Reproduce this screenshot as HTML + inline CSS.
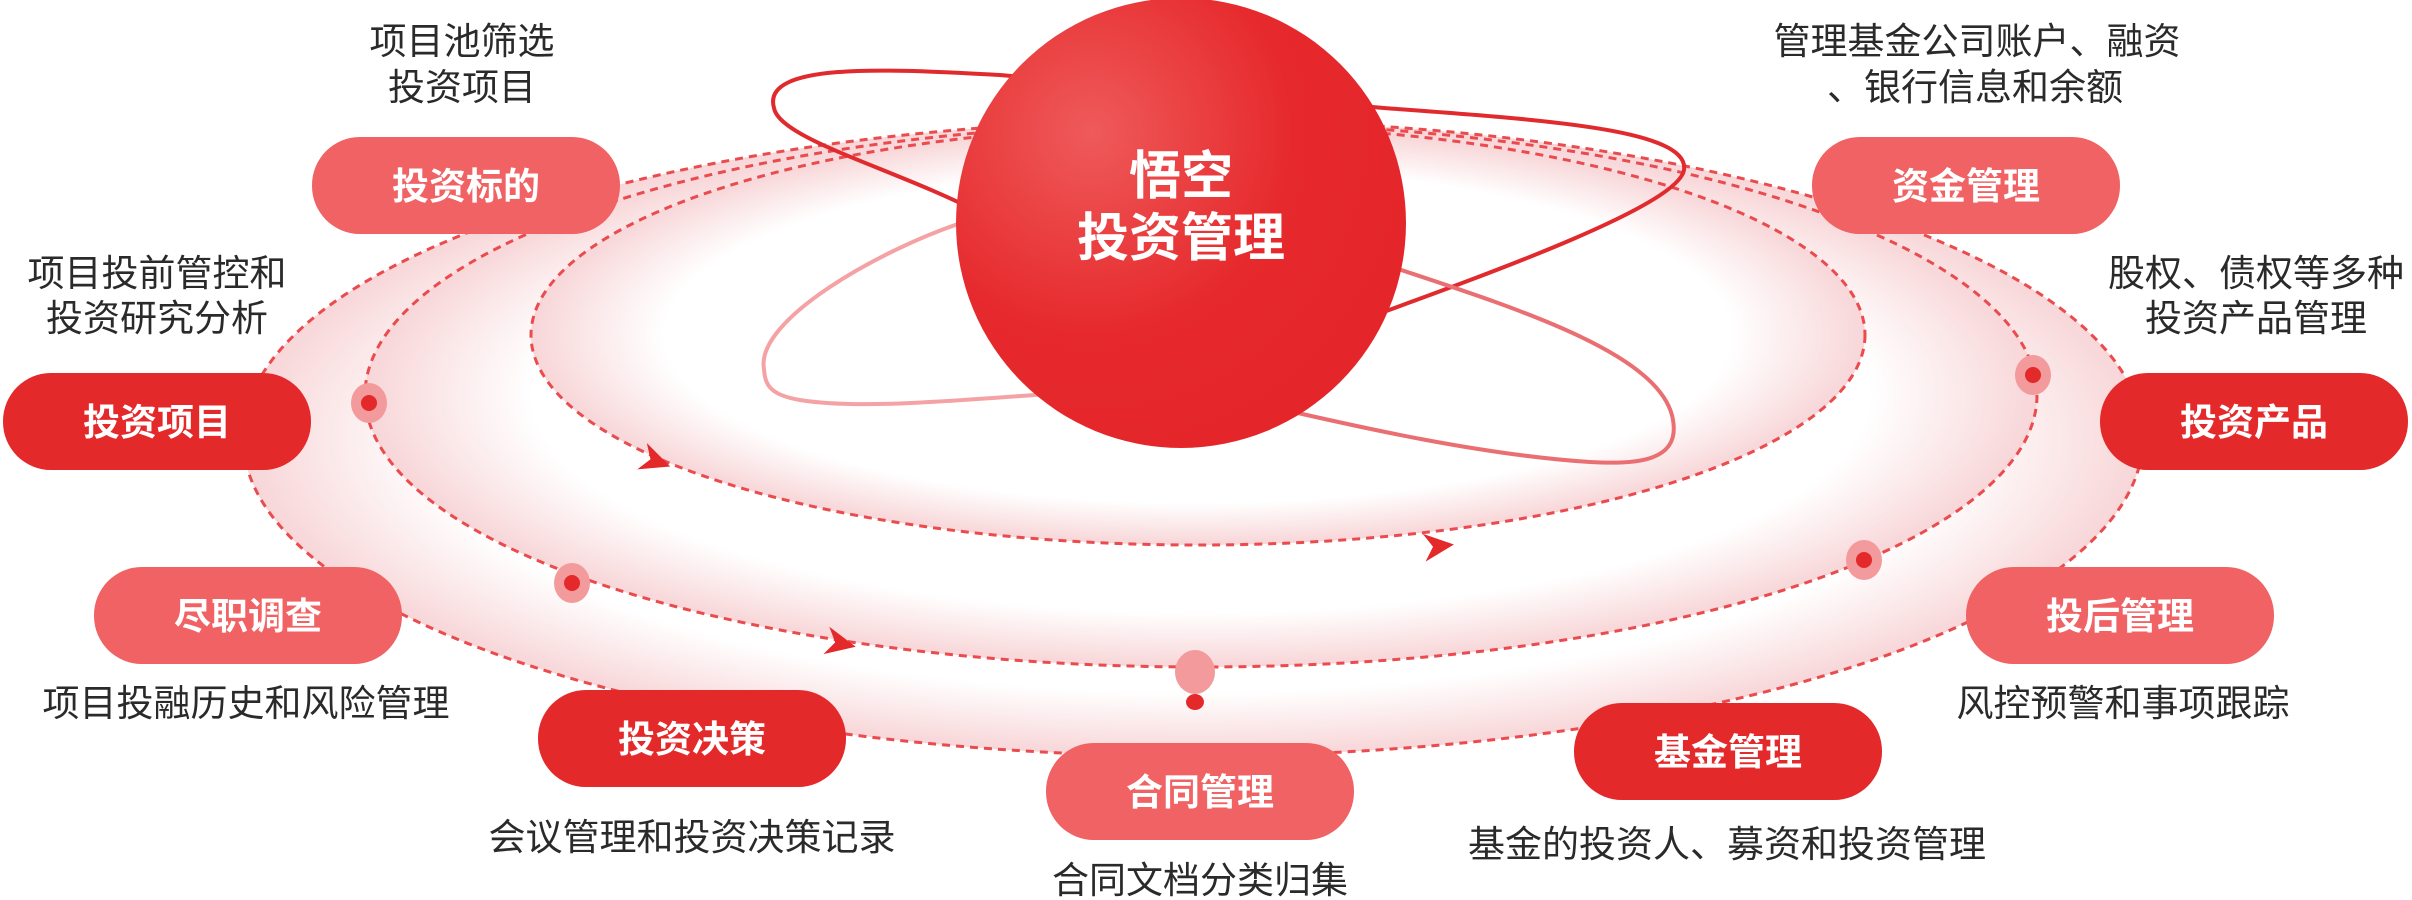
<!DOCTYPE html>
<html><head><meta charset="utf-8"><style>
html,body{margin:0;padding:0;background:#fff;}
svg{display:block;}
text{font-family:"Liberation Sans","Noto Sans CJK SC",sans-serif;}
.lb{font-size:37px;fill:#2a2a2a;text-anchor:middle;}
.pt{font-size:37px;fill:#fff;font-weight:bold;text-anchor:middle;}
</style></head><body>
<svg width="2412" height="900" viewBox="0 0 2412 900" xmlns="http://www.w3.org/2000/svg">
<defs>
<radialGradient id="rg" cx="50%" cy="50%" r="50%">
<stop offset="0.8" stop-color="#fff"/>
<stop offset="1" stop-color="#f8d6d8"/>
</radialGradient>
<radialGradient id="sph" cx="30%" cy="30%" r="75%">
<stop offset="0" stop-color="#ef5a5a"/>
<stop offset="0.6" stop-color="#e6292c"/>
<stop offset="1" stop-color="#e4262a"/>
</radialGradient>
</defs>
<ellipse cx="1193" cy="438" rx="950" ry="318" fill="url(#rg)" stroke="#ea4b4e" stroke-width="3" stroke-dasharray="8 6"/>
<ellipse cx="1201" cy="395" rx="836" ry="272" fill="url(#rg)" stroke="#ea4b4e" stroke-width="3" stroke-dasharray="8 6"/>
<ellipse cx="1198" cy="335" rx="667" ry="210" fill="url(#rg)" stroke="#ea4b4e" stroke-width="3" stroke-dasharray="8 6"/>
<polygon points="641,448 671,462 641,476 650,462" fill="#e4292b" transform="rotate(20 658 462)"/>
<polygon points="826,630 856,644 826,658 835,644" fill="#e4292b" transform="rotate(12 843 644)"/>
<polygon points="1424,532 1454,546 1424,560 1433,546" fill="#e4292b" transform="rotate(-6 1440 546)"/>
<g fill="#f39a9c"><ellipse cx="369" cy="403" rx="18" ry="20"/><ellipse cx="572" cy="583" rx="18" ry="20"/><ellipse cx="2033" cy="375" rx="18" ry="20"/><ellipse cx="1864" cy="560" rx="18" ry="20"/><ellipse cx="1195" cy="672" rx="20" ry="22"/></g>
<g fill="#e4292b"><circle cx="369" cy="403" r="8"/><circle cx="572" cy="583" r="8"/><circle cx="2033" cy="375" r="8"/><circle cx="1864" cy="560" r="8"/><ellipse cx="1195" cy="702" rx="9" ry="8"/></g>
<path d="M774,108 C 760,60 900,70 1000,75 L1384,108 C 1550,120 1690,130 1684,170 C 1678,205 1500,270 1353,323 L984,215 C 900,170 780,140 774,108 Z" fill="none" stroke="#e02a2d" stroke-width="4"/>
<path d="M764,369 C 755,320 880,250 961,223 L1076,392 C 960,400 860,410 800,400 C 770,395 765,385 764,369 Z" fill="none" stroke="#f4a2a4" stroke-width="4"/>
<path d="M1307,238 C 1450,290 1660,340 1673,420 C 1680,460 1640,465 1590,462 C 1480,455 1350,425 1276,408" fill="none" stroke="#ea6f72" stroke-width="4"/>
<circle cx="1181" cy="223" r="225" fill="url(#sph)"/>
<text x="1181" y="194" font-size="52" font-weight="bold" fill="#fff" text-anchor="middle">悟空</text>
<text x="1181" y="256" font-size="52" font-weight="bold" fill="#fff" text-anchor="middle">投资管理</text>
<g>
<rect x="312" y="137" width="308" height="97" rx="48" fill="#f06263"/><text class="pt" x="466" y="199">投资标的</text>
<rect x="3" y="373" width="308" height="97" rx="48" fill="#e4292b"/><text class="pt" x="157" y="435">投资项目</text>
<rect x="94" y="567" width="308" height="97" rx="48" fill="#f06263"/><text class="pt" x="248" y="629">尽职调查</text>
<rect x="538" y="690" width="308" height="97" rx="48" fill="#e4292b"/><text class="pt" x="692" y="752">投资决策</text>
<rect x="1046" y="743" width="308" height="97" rx="48" fill="#f06263"/><text class="pt" x="1200" y="805">合同管理</text>
<rect x="1574" y="703" width="308" height="97" rx="48" fill="#e4292b"/><text class="pt" x="1728" y="765">基金管理</text>
<rect x="1966" y="567" width="308" height="97" rx="48" fill="#f06263"/><text class="pt" x="2120" y="629">投后管理</text>
<rect x="2100" y="373" width="308" height="97" rx="48" fill="#e4292b"/><text class="pt" x="2254" y="435">投资产品</text>
<rect x="1812" y="137" width="308" height="97" rx="48" fill="#f06263"/><text class="pt" x="1966" y="199">资金管理</text>
</g>
<text class="lb" x="462" y="54">项目池筛选</text>
<text class="lb" x="462" y="100">投资项目</text>
<text class="lb" x="157" y="286">项目投前管控和</text>
<text class="lb" x="157" y="331">投资研究分析</text>
<text class="lb" x="246" y="716">项目投融历史和风险管理</text>
<text class="lb" x="692" y="850">会议管理和投资决策记录</text>
<text class="lb" x="1200" y="893">合同文档分类归集</text>
<text class="lb" x="1727" y="857">基金的投资人、募资和投资管理</text>
<text class="lb" x="2123" y="716">风控预警和事项跟踪</text>
<text class="lb" x="2256" y="286">股权、债权等多种</text>
<text class="lb" x="2256" y="331">投资产品管理</text>
<text class="lb" x="1977" y="54">管理基金公司账户、融资</text>
<text class="lb" x="1975" y="100">、银行信息和余额</text>
</svg>
</body></html>
